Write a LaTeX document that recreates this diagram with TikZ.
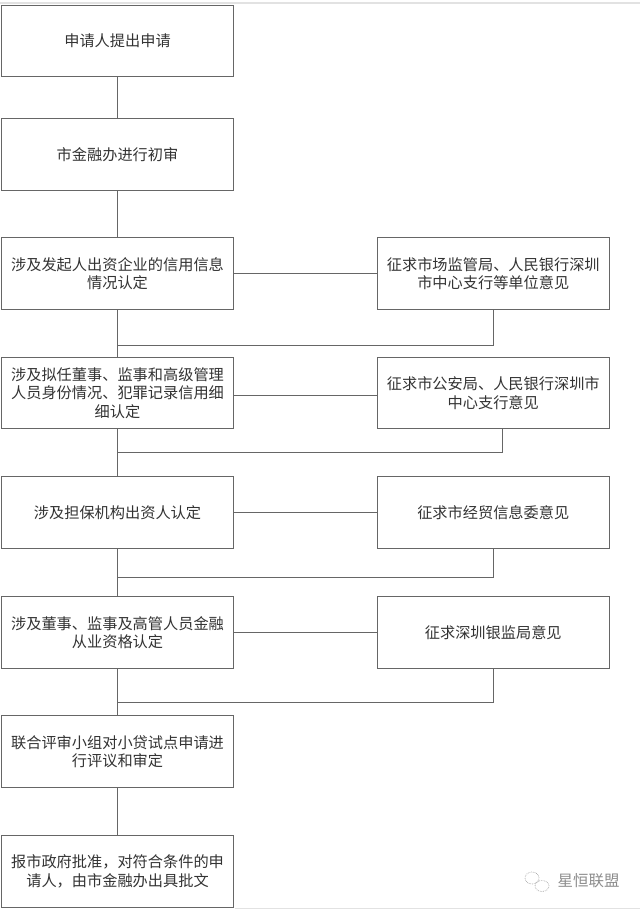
\documentclass[tikz,border=0pt]{standalone}
\usepackage{fontspec}
\setmainfont{Noto Sans CJK SC}
\tikzset{
    flowbox/.style={draw=boxgray, line width=1.2pt, fill=white, text=textgray, minimum width=232pt, minimum height=71.5pt, inner sep=0pt, align=center, font=\fontsize{15.2}{18.5}\selectfont},
    flowline/.style={draw=boxgray, line width=1.1pt},
    pagerule/.style={draw=rulegray, line width=1.2pt}
}
\definecolor{boxgray}{HTML}{666666}
\definecolor{textgray}{HTML}{333333}
\definecolor{rulegray}{HTML}{E2E2E2}
\definecolor{markgray}{HTML}{8C8C8C}
\definecolor{icongray}{HTML}{A8A8A8}
\begin{document}
\begin{tikzpicture}[x=1pt, y=-1pt]
    \useasboundingbox (0,0) rectangle (640,910);

    \coordinate (topL) at (0,3);
    \coordinate (topR) at (640,3);
    \coordinate (botL) at (235,908.5);
    \coordinate (botR) at (640,908.5);
    \draw[pagerule] (topL) -- (topR);
    \draw[pagerule] (botL) -- (botR);

    \node[flowbox] (apply) at (117.5,41) {申请人提出申请};
    \node[flowbox] (review) at (117.5,154.5) {市金融办进行初审};
    \node[flowbox] (credit) at (117.5,273.5) {涉及发起人出资企业的信用信息\\情况认定};
    \node[flowbox] (person) at (117.5,393) {涉及拟任董事、监事和高级管理\\人员身份情况、犯罪记录信用细\\细认定};
    \node[flowbox] (guarantee) at (117.5,512.5) {涉及担保机构出资人认定};
    \node[flowbox] (finance) at (117.5,632.5) {涉及董事、监事及高管人员金融\\从业资格认定};
    \node[flowbox] (panel) at (117.5,751.5) {联合评审小组对小贷试点申请进\\行评议和审定};
    \node[flowbox] (approve) at (117.5,871.5) {报市政府批准，对符合条件的申\\请人，由市金融办出具批文};

    \node[flowbox] (market) at (493.25,273.5) {征求市场监管局、人民银行深圳\\市中心支行等单位意见};
    \node[flowbox] (police) at (493.25,393) {征求市公安局、人民银行深圳市\\中心支行意见};
    \node[flowbox] (trade) at (493.25,512.5) {征求市经贸信息委意见};
    \node[flowbox] (bank) at (493.25,632.5) {征求深圳银监局意见};

    \coordinate (joinA) at (117.5,345.5);
    \coordinate (joinB) at (117.5,452.5);
    \coordinate (joinBr) at (502.5,452.5);
    \coordinate (joinC) at (117.5,577.5);
    \coordinate (joinD) at (117.5,702.5);
    \coordinate (linkB) at (300,395.5);

    \draw[flowline] (apply) -- (review);
    \draw[flowline] (review) -- (credit);
    \draw[flowline] (credit) -- (person);
    \draw[flowline] (person) -- (guarantee);
    \draw[flowline] (guarantee) -- (finance);
    \draw[flowline] (finance) -- (panel);
    \draw[flowline] (panel) -- (approve);

    \draw[flowline] (credit) -- (market);
    \draw[flowline] (person.east |- linkB) -- (police.west |- linkB);
    \draw[flowline] (guarantee) -- (trade);
    \draw[flowline] (finance) -- (bank);

    \draw[flowline] (market) |- (joinA);
    \draw[flowline] (police.south -| joinBr) -- (joinBr) -- (joinB);
    \draw[flowline] (trade) |- (joinC);
    \draw[flowline] (bank) |- (joinD);

    \node[text=markgray, inner sep=0pt, font=\fontsize{15.5}{18}\selectfont] (mark) at (588.5,881) {星恒联盟};
    \draw[icongray, densely dotted, line width=0.7pt] (532,878) ellipse (7pt and 6pt);
    \draw[icongray, densely dotted, line width=0.7pt] (542,886) ellipse (7pt and 5.5pt);
\end{tikzpicture}
\end{document}
